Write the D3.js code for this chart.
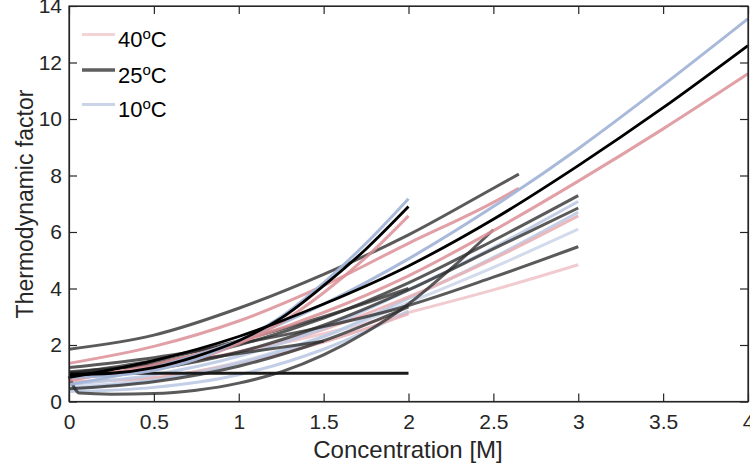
<!DOCTYPE html>
<html><head><meta charset="utf-8">
<script src="https://cdn.jsdelivr.net/npm/d3@7"></script>
<style>
html,body{margin:0;padding:0;background:#fff;}
svg{display:block;font-family:"Liberation Sans",Arial,Helvetica,sans-serif;}
</style></head>
<body><svg id="chart" width="750" height="470"></svg>
<script>
// ---- data ----
const xTicks = [0,0.5,1,1.5,2,2.5,3,3.5,4];
const yTicks = [0,2,4,6,8,10,12,14];
const legendLabels = ["40", "25", "10"];

const grid4 = [0,0.5,1,1.5,2,2.5,3,3.5,4];
const grid3 = [0,0.5,1,1.5,2,2.5,3];
const grid265 = [0,0.5,1,1.5,2,2.5,2.65];
const grid2 = [0,0.5,1,1.5,2];
const grid2f = [0,0.25,0.5,0.75,1,1.25,1.5,1.75,2];
const grid25b = [0,0.03,0.06,0.25,0.5,0.75,1,1.25,1.5,1.75,2,2.25,2.5];
const grid15 = [0,0.5,1,1.5];
const gridFlat = [0,2];

// 40 °C
const redBig   = [0.75,1.3,2.1,3.15,4.45,6.05,7.8,9.65,11.6];
const redSteep = [0.9,0.95,1.15,1.5,2.05,2.8,3.85,5.1,6.57];
const redPar   = [1.35,1.95,2.85,4.1,5.6,7.05,7.55];
const pink3a   = [0.9,1.2,1.75,2.55,3.7,5.05,6.57];
const pink3b   = [0.85,1.2,1.75,2.4,3.15,3.95,4.84];
const pink2    = [0.7,0.85,1.35,2.1,3.1];
// 25 °C
const blackBig   = [0.85,1.45,2.3,3.45,4.8,6.45,8.35,10.4,12.6];
const blackSteep = [0.95,1.0,1.2,1.6,2.15,2.95,4.1,5.4,6.9];
const grayTop    = [1.85,2.35,3.3,4.5,5.9,7.55,8.05];
const grayBottom = [0.9,0.5,0.3,0.26,0.28,0.4,0.65,1.05,1.65,2.45,3.45,4.7,6.08];
const gray15     = [1.05,1.3,1.7,2.13];
const flatLine   = [1.0,1.0];
const gray2a     = [1.0,1.45,2.15,3.0,4.0];
const gray2b     = [0.45,0.7,1.25,2.15,3.35];
const gray3a     = [1.0,1.35,2.0,2.95,4.2,5.7,7.29];
const gray3b     = [0.9,1.15,1.75,2.7,3.95,5.4,6.85];
const gray3c     = [1.2,1.55,2.05,2.65,3.4,4.4,5.48];
// 10 °C
const blueBig   = [0.6,1.2,2.15,3.45,5.05,6.9,8.95,11.2,13.55];
const blueSteep = [0.85,0.92,1.1,1.5,2.15,3.0,4.2,5.6,7.18];
const blue3a    = [0.6,0.95,1.6,2.6,3.95,5.45,7.08];
const blue3b    = [0.45,0.75,1.35,2.3,3.65,5.1,6.7];
const blue3c    = [0.5,0.8,1.4,2.3,3.5,4.75,6.1];
const blue2     = [0.35,0.5,0.95,1.85,3.2];

// ---- series table (drawing order), styles separate ----
const series = [
  {x:grid3, y:pink3b, s:"pinkL"},
  {x:grid3, y:blue3c, s:"blueL"},
  {x:grid2, y:blue2, s:"blueM"},
  {x:grid2, y:pink2, s:"pinkM"},
  {x:grid3, y:blue3b, s:"blueM"},
  {x:grid3, y:pink3a, s:"pinkM"},
  {x:grid3, y:blue3a, s:"blueM"},
  {x:grid265, y:redPar, s:"red"},
  {x:grid25b, y:grayBottom, s:"gray"},
  {x:grid15, y:gray15, s:"gray"},
  {x:grid2, y:gray2a, s:"gray"},
  {x:grid2, y:gray2b, s:"gray"},
  {x:grid3, y:gray3a, s:"gray"},
  {x:grid3, y:gray3b, s:"gray"},
  {x:grid3, y:gray3c, s:"gray"},
  {x:grid265, y:grayTop, s:"gray"},
  {x:gridFlat, y:flatLine, s:"flat"},
  {x:grid4, y:redBig, s:"red"},
  {x:grid4, y:blueBig, s:"blue"},
  {x:grid2f, y:redSteep, s:"red"},
  {x:grid2f, y:blueSteep, s:"blue"},
  {x:grid2f, y:blackSteep, s:"black"},
  {x:grid4, y:blackBig, s:"black"}
];
const styles = {
  pinkL:{c:"#f1cbcf", o:1, w:3},
  pinkM:{c:"#e8b1b6", o:0.9, w:3},
  red:{c:"#dc8f96", o:0.85, w:3},
  blueL:{c:"#d2dbec", o:1, w:3},
  blueM:{c:"#bccae3", o:0.9, w:3},
  blue:{c:"#a3b5d8", o:0.95, w:3},
  gray:{c:"#2b2b2b", o:0.78, w:3},
  flat:{c:"#1a1a1a", o:1, w:3},
  black:{c:"#000000", o:1, w:2.8}
};

// ---- layout ----
const svg = d3.select("#chart");
const L = 69, R = 748, T = 6, B = 401.5;
const x = d3.scaleLinear().domain([0,4]).range([L,R]);
const y = d3.scaleLinear().domain([0,14]).range([B,T]);
const axisColor = "#262626";

const line = d3.line().x(d=>x(d[0])).y(d=>y(d[1])).curve(d3.curveMonotoneX);
const gLines = svg.append("g");
series.forEach(sr=>{
  const st = styles[sr.s];
  gLines.append("path")
    .datum(sr.x.map((xv,i)=>[xv, sr.y[i]]))
    .attr("d", line)
    .attr("fill","none")
    .attr("stroke", st.c)
    .attr("stroke-opacity", st.o)
    .attr("stroke-width", st.w)
    .attr("stroke-linejoin","round");
});

// axes (MATLAB-like box, inward ticks)
const tickLen = 8;
const fontTick = 21;
const xb = svg.append("g").attr("transform",`translate(0,${B})`)
  .call(d3.axisBottom(x).tickValues(xTicks).tickSizeInner(-tickLen).tickSizeOuter(0).tickPadding(13).tickFormat(d3.format("~g")));
const xt = svg.append("g").attr("transform",`translate(0,${T})`)
  .call(d3.axisTop(x).tickValues(xTicks).tickSizeInner(-tickLen).tickSizeOuter(0).tickFormat(""));
const yl = svg.append("g").attr("transform",`translate(${L},0)`)
  .call(d3.axisLeft(y).tickValues(yTicks).tickSizeInner(-tickLen).tickSizeOuter(0).tickPadding(7).tickFormat(d3.format("~g")));
const yr = svg.append("g").attr("transform",`translate(${R},0)`)
  .call(d3.axisRight(y).tickValues(yTicks).tickSizeInner(-tickLen).tickSizeOuter(0).tickFormat(""));
[xb,xt,yl,yr].forEach(g=>{
  g.select(".domain").attr("stroke",axisColor).attr("stroke-width",1.2);
  g.selectAll(".tick line").attr("stroke",axisColor).attr("stroke-width",1.2);
  g.selectAll("text").attr("fill",axisColor).style("font-size",fontTick+"px")
   .style("font-family",'"Liberation Sans",Arial,sans-serif');
});
xb.selectAll(".tick text").attr("dy","0.71em");
// keep box edges complete
svg.append("rect").attr("x",L).attr("y",T).attr("width",R-L).attr("height",B-T)
  .attr("fill","none").attr("stroke",axisColor).attr("stroke-width",1.2);

// axis labels
svg.append("text").attr("x",408).attr("y",458).attr("text-anchor","middle")
  .attr("fill",axisColor).style("font-size","24px").text("Concentration [M]");
svg.append("text").attr("transform","translate(33,204) rotate(-90)").attr("text-anchor","middle")
  .attr("fill",axisColor).style("font-size","23px").text("Thermodynamic factor");

// legend
const legColors = ["#f3d3d6","#5e5e5e","#cad4e7"];
const legWidths = [2.8,3.6,2.8];
const legY = [34.5,70,104.5];
const leg = svg.append("g");
legendLabels.forEach((lab,i)=>{
  leg.append("line").attr("x1",82).attr("x2",115).attr("y1",legY[i]).attr("y2",legY[i])
    .attr("stroke",legColors[i]).attr("stroke-width",legWidths[i]);
  const t = leg.append("text").attr("x",118).attr("y",legY[i]+12.5)
    .attr("fill","#000").style("font-size","22px");
  t.append("tspan").text(lab);
  t.append("tspan").attr("dy",-8).style("font-size","15px").text("o");
  t.append("tspan").attr("dy",8).text("C");
});
</script>
</body></html>
